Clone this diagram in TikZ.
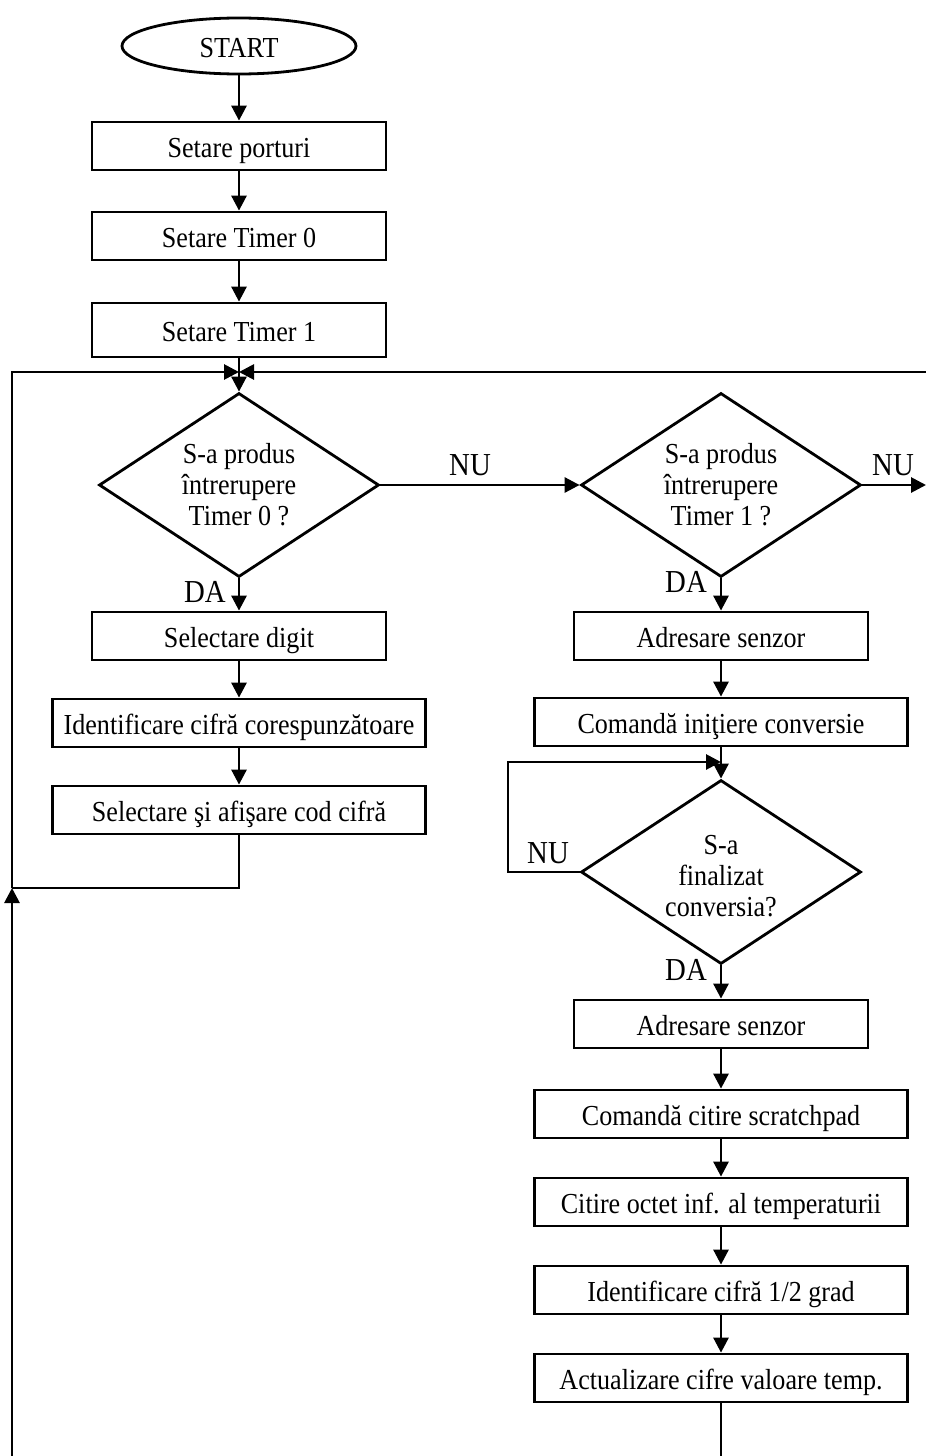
\documentclass[tikz,border=0pt]{standalone}
\usepackage{fontspec}
\setmainfont{Liberation Serif}[FakeStretch=0.9]
\usetikzlibrary{shapes.geometric,arrows.meta}

\begin{document}
\begin{tikzpicture}[x=1pt,y=-1pt,
  every node/.style={font=\fontsize{29}{31}\selectfont},
  line/.style={line width=2.8pt},
  flow/.style={line, -{Triangle[length=15pt,width=15pt]}},
  stepbox/.style={draw, line width=2.8pt, minimum width=294, minimum height=48, inner sep=0pt,
    text height=24pt, text depth=2pt},
  widebox/.style={stepbox, minimum width=373},
  terminal/.style={draw, ellipse, line width=2.8pt, minimum width=234, minimum height=56, inner sep=0pt,
    text height=24pt, text depth=2pt},
  decision/.style={draw, diamond, line width=2.8pt, minimum width=280, minimum height=184,
    aspect=1.52, inner sep=0pt, align=center},
  lbl/.style={font=\fontsize{32}{34}\selectfont, inner sep=0pt}]

\useasboundingbox (0,0) rectangle (926,1456);

% ---- initialisation ----
\node[terminal] (start) at (239,46) {START};
\node[stepbox] (ports) at (239,146) {Setare porturi};
\node[stepbox] (tim0) at (239,236) {Setare Timer 0};
\node[stepbox, minimum height=54] (tim1) at (239,330) {Setare Timer 1};

\draw[flow] (start) -- (ports);
\draw[flow] (ports) -- (tim0);
\draw[flow] (tim0) -- (tim1);

% ---- main loop ----
\coordinate (J) at (239,372);
\coordinate (entryR) at (926,372);
\coordinate (exitR) at (926,485);

\node[decision] (dec0) at (239,485) {S-a produs\\întrerupere\\Timer 0 ?};
\node[decision] (dec1) at (721,485) {S-a produs\\întrerupere\\Timer 1 ?};

\draw[flow] (tim1) -- (dec0);
\draw[flow] (entryR) -- (J);
\draw[flow] (dec0.east) -- (dec1.west);
\draw[flow] (dec1.east) -- (exitR);
\node[lbl] (nu0) at (470,465) {NU};
\node[lbl] (nu1) at (893,465) {NU};

% ---- Timer 0 branch: display ----
\node[stepbox] (seldig) at (239,636) {Selectare digit};
\node[widebox] (ident) at (239,723) {Identificare cifră corespunzătoare};
\node[widebox] (show) at (239,810) {Selectare şi afişare cod cifră};
\node[lbl] (da0) at (205,592) {DA};

\draw[flow] (dec0.south) -- (seldig);
\draw[flow] (seldig) -- (ident);
\draw[flow] (ident) -- (show);

\coordinate (back) at (12,888);
\coordinate (bottomL) at (12,1456);
\draw[line] (show.south) |- (back);
\draw[flow] (bottomL) -- (back);
\draw[flow] (back) |- (J);

% ---- Timer 1 branch: temperature ----
\node[stepbox] (adr1) at (721,636) {Adresare senzor};
\node[widebox] (conv) at (721,722) {Comandă iniţiere conversie};
\node[lbl] (da1) at (686,582) {DA};

\draw[flow] (dec1.south) -- (adr1);
\draw[flow] (adr1) -- (conv);

\node[decision] (dec2) at (721,872)
  {\raisebox{-14pt}[0pt][0pt]{\begin{tabular}{@{}c@{}}S-a\\finalizat\\conversia?\end{tabular}}};
\coordinate (loopIn) at (721,762);
\coordinate (loopX) at (508,762);
\draw[flow] (conv) -- (dec2);
\draw[flow] (dec2.west) -| (loopX) -- (loopIn);
\node[lbl] (nu2) at (548,853) {NU};
\node[lbl] (da2) at (686,970) {DA};

\node[stepbox] (adr2) at (721,1024) {Adresare senzor};
\node[widebox] (scratch) at (721,1114) {Comandă citire scratchpad};
\node[widebox] (octet) at (721,1202) {Citire octet inf. al temperaturii};
\node[widebox] (half) at (721,1290) {Identificare cifră 1/2 grad};
\node[widebox] (upd) at (721,1378) {Actualizare cifre valoare temp.};

\draw[flow] (dec2.south) -- (adr2);
\draw[flow] (adr2) -- (scratch);
\draw[flow] (scratch) -- (octet);
\draw[flow] (octet) -- (half);
\draw[flow] (half) -- (upd);

\coordinate (bottomR) at (721,1456);
\draw[line] (upd.south) -- (bottomR);

\end{tikzpicture}
\end{document}
